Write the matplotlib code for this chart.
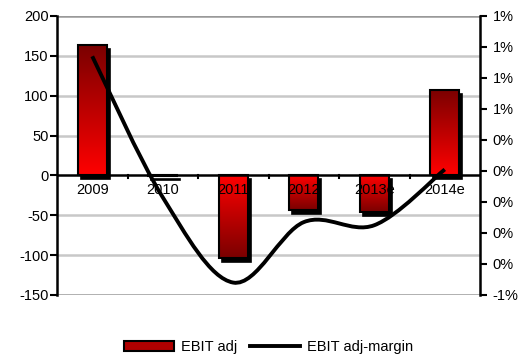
import numpy as np
import matplotlib.pyplot as plt
from matplotlib.patches import Rectangle, Patch, PathPatch
from matplotlib.path import Path
from matplotlib.lines import Line2D
from matplotlib.colors import LinearSegmentedColormap
from matplotlib.ticker import FuncFormatter
import matplotlib.transforms as mtransforms

plt.rcParams['font.family'] = ['Liberation Sans', 'DejaVu Sans']
plt.rcParams['axes.unicode_minus'] = False

years = ['2009', '2010', '2011', '2012', '2013e', '2014e']
ebit_adj = [163, -1, -103, -43, -46, 107]
ebit_margin = [0.0094, 0.0003, -0.0052, -0.0013, -0.0015, 0.0021]

fig = plt.figure(figsize=(5.25, 3.6), dpi=100)
ax = fig.add_axes([0.1086, 0.1806, 0.8057, 0.775])
ax2 = ax.twinx()

x = np.arange(len(years))
bar_w = 0.41

# dark red at the far end of each bar, bright red at the zero line
cmap = LinearSegmentedColormap.from_list('ebit', ['#7a0000', '#ff0000'])
grad = np.linspace(0, 1, 256).reshape(-1, 1)
shadow_tf = mtransforms.offset_copy(ax.transData, fig, x=3, y=-4, units='dots')

for xi, v in zip(x, ebit_adj):
    x0, x1 = xi - bar_w / 2, xi + bar_w / 2
    ax.add_patch(Rectangle((x0, 0), bar_w, v, facecolor='black', edgecolor='black',
                           lw=1.2, transform=shadow_tf, zorder=2))
    img = grad if v > 0 else grad[::-1]
    ax.imshow(img, cmap=cmap, extent=[x0, x1, 0, v] if v > 0 else [x0, x1, v, 0],
              origin='upper', aspect='auto', zorder=3)
    ax.add_patch(Rectangle((x0, 0), bar_w, v, facecolor='none', edgecolor='black',
                           lw=1.5, zorder=4))

ax.set_xlim(-0.5, len(years) - 0.5)
ax.set_ylim(-150, 200)
ax.set_yticks(np.arange(-150, 201, 50))
for yv in np.arange(-150, 201, 50):
    if yv == 0:
        continue
    col = '#999999' if yv in (-150, 200) else '#c8c8c8'
    ax.axhline(yv, color=col, lw=1.8, zorder=1)
ax.axhline(0, color='black', lw=1.8, zorder=5)

# category ticks sit on the zero line between the years
for b in np.arange(0.5, len(years) - 0.5, 1):
    ax.plot([b, b], [0, -3.5], color='black', lw=1.5, zorder=5, clip_on=False)
ax.set_xticks([])
for xi, lab in zip(x, years):
    ax.text(xi, -9, lab, ha='center', va='top', fontsize=10.5, zorder=6)

for s in ['top', 'bottom', 'right']:
    ax.spines[s].set_visible(False)
ax.spines['left'].set_linewidth(1.8)
ax.tick_params(axis='y', length=5, width=1.5, labelsize=10.5, pad=1)

# smoothed margin line (Catmull-Rom segments as cubic Bezier curves)
pts = np.column_stack([x, ebit_margin]).astype(float)
ext = np.vstack([pts[0], pts, pts[-1]])
verts = [tuple(pts[0])]
codes = [Path.MOVETO]
for i in range(len(pts) - 1):
    p0, p1, p2, p3 = ext[i], ext[i + 1], ext[i + 2], ext[i + 3]
    c1 = p1 + (p2 - p0) / 6
    c2 = p2 - (p3 - p1) / 6
    verts += [tuple(c1), tuple(c2), tuple(p2)]
    codes += [Path.CURVE4] * 3
ax2.add_patch(PathPatch(Path(verts, codes), facecolor='none', edgecolor='black',
                        lw=2.8, capstyle='butt', zorder=6))

ax2.set_ylim(-0.006, 0.012)
ax2.set_yticks(np.linspace(-0.006, 0.012, 10))
ax2.yaxis.set_major_formatter(FuncFormatter(lambda v, p: f"{int(round(v * 100))}%"))
for s in ['top', 'bottom', 'left']:
    ax2.spines[s].set_visible(False)
ax2.spines['right'].set_linewidth(1.8)
ax2.tick_params(axis='y', length=5, width=1.5, labelsize=10.5, pad=4)

handles = [Patch(facecolor='#b00000', edgecolor='black', lw=1.5),
           Line2D([0], [0], color='black', lw=2.8)]
fig.legend(handles, ['EBIT adj', 'EBIT adj-margin'], loc='center',
           bbox_to_anchor=(0.512, 0.036), ncol=2, frameon=False, fontsize=10.5,
           handlelength=3.4, handleheight=0.7, handletextpad=0.5, columnspacing=0.9)

fig.savefig('out.png', dpi=100)
